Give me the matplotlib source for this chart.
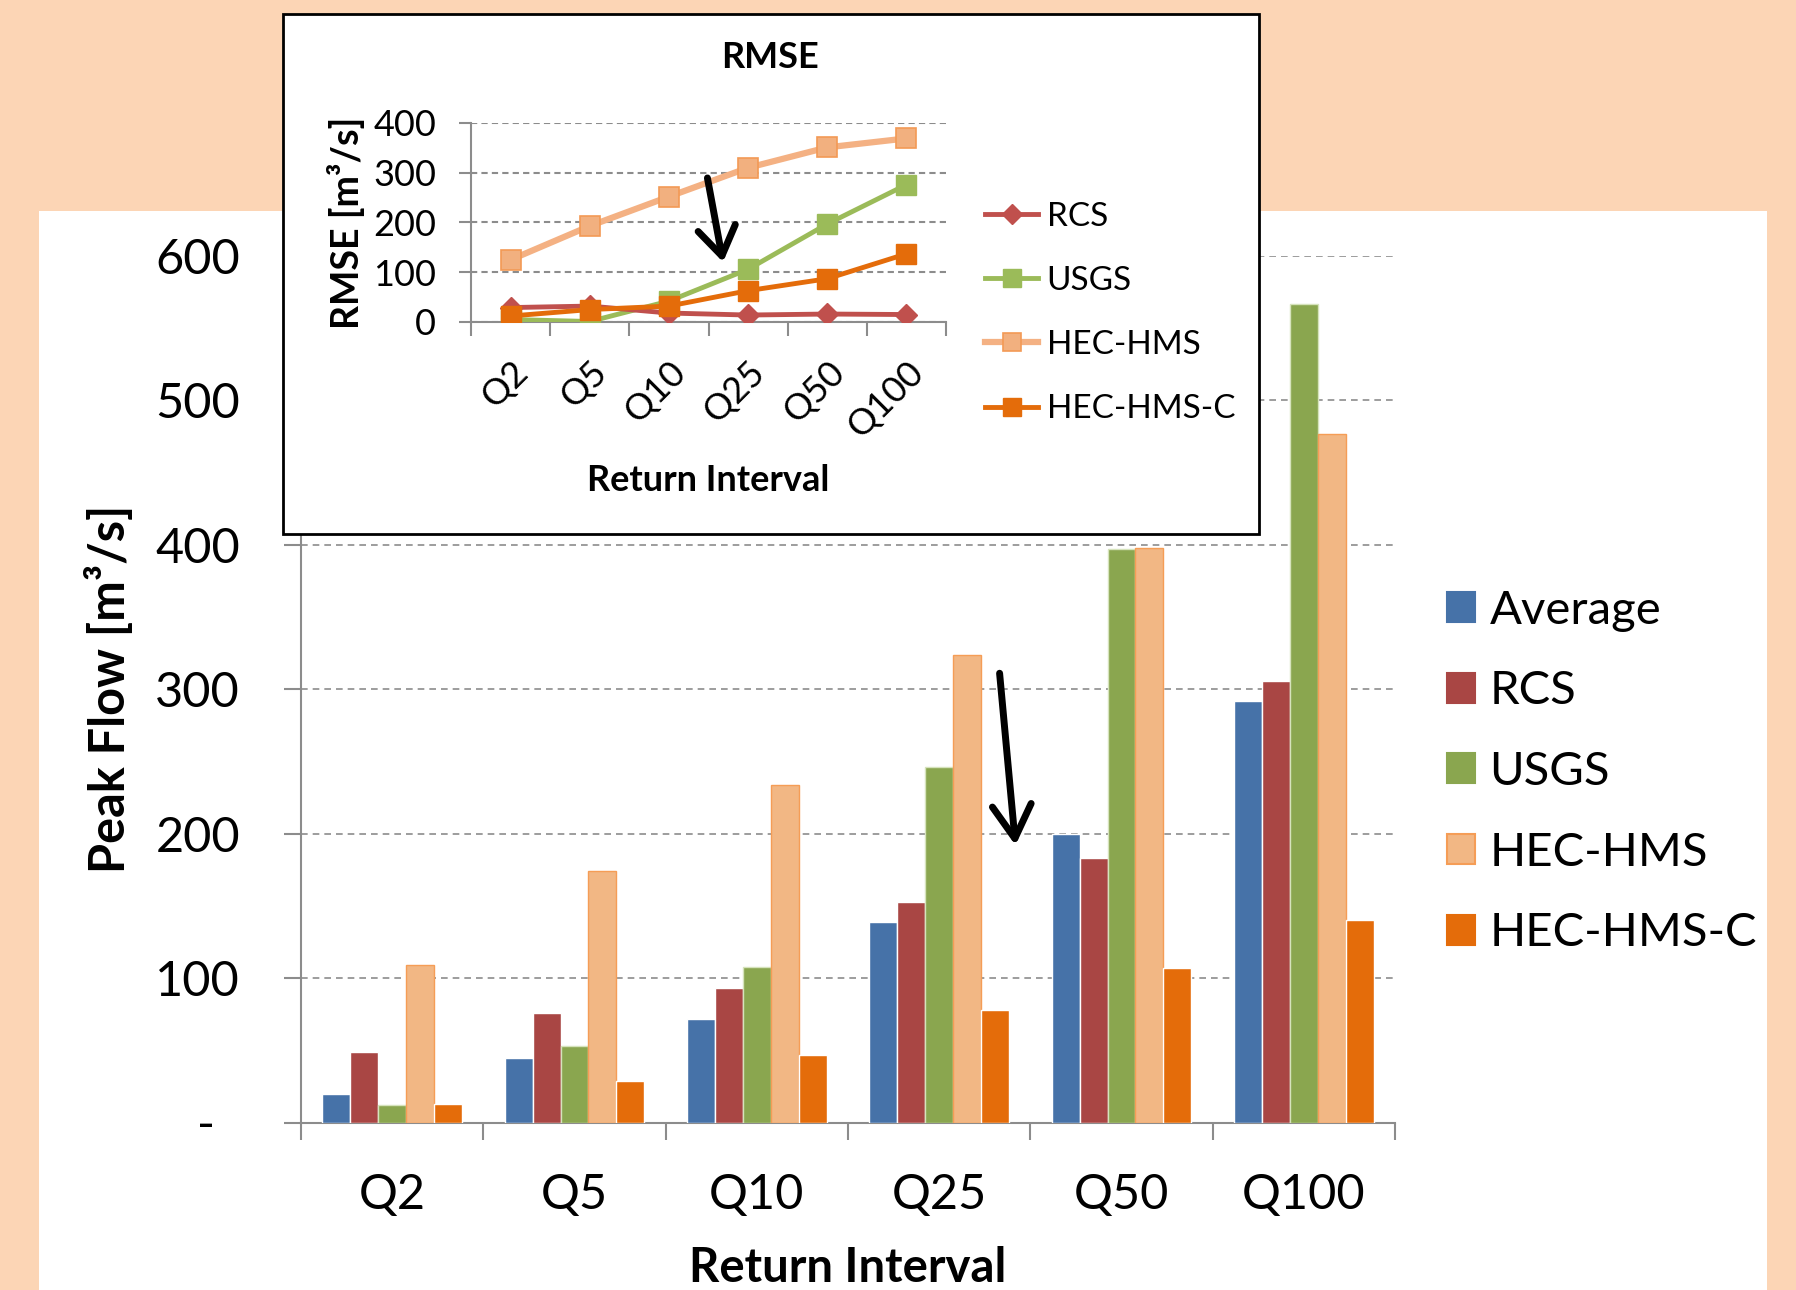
import numpy as np
import matplotlib
matplotlib.use('Agg')
import matplotlib.pyplot as plt
from matplotlib.patches import Rectangle, Patch

plt.rcParams['font.family'] = ['Lato', 'DejaVu Sans']

# data
categories = ['Q2', 'Q5', 'Q10', 'Q25', 'Q50', 'Q100']
series = ['Average', 'RCS', 'USGS', 'HEC-HMS', 'HEC-HMS-C']
peak_average = [20, 45, 72, 139, 200, 292]
peak_rcs = [49, 76, 93, 153, 183, 306]
peak_usgs = [12, 53, 108, 246, 397, 567]
peak_hms = [109, 174, 234, 324, 398, 477]
peak_hmsc = [13, 29, 47, 78, 107, 140]
yticks_main = [0, 100, 200, 300, 400, 500, 600]
yticklabels_main = ['-  ', '100', '200', '300', '400', '500', '600']

rmse_series = ['RCS', 'USGS', 'HEC-HMS', 'HEC-HMS-C']
rmse_rcs = [29, 32, 18, 14, 16, 15]
rmse_usgs = [5, 1, 42, 106, 197, 276]
rmse_hms = [125, 193, 252, 310, 351, 369]
rmse_hmsc = [12, 25, 32, 63, 87, 137]
yticks_inset = [0, 100, 200, 300, 400]

# colours
peach = '#FCD5B5'
bar_colors = ['#4672A8', '#A94644', '#8AA64F', '#F2B784', '#E46C0A']
bar_edges = ['#FFFFFF', '#FFFFFF', '#D6E3BC', '#F59D56', '#FFFFFF']
grid_c = '#8C8C8C'

fig = plt.figure(figsize=(17.96, 12.90), dpi=100, facecolor=peach)

# white panel
fig.patches.append(Rectangle((39 / 1796, 0), (1767 - 39) / 1796, 1 - 211 / 1290,
                             transform=fig.transFigure, facecolor='white',
                             edgecolor='none', zorder=-1))

# ---------------- main bar chart ----------------
ax = fig.add_axes([301 / 1796, 1 - 1122.5 / 1290, 1094 / 1796, 866.5 / 1290])
ax.set_facecolor('none')
x = np.arange(len(categories))
w = 0.153
peaks = [peak_average, peak_rcs, peak_usgs, peak_hms, peak_hmsc]
handles = []
for i, vals in enumerate(peaks):
    ax.bar(x + (i - 2) * w, vals, width=w, color=bar_colors[i],
           edgecolor=bar_edges[i], linewidth=1.0, zorder=3)
    handles.append(Patch(facecolor=bar_colors[i], edgecolor=bar_edges[i]
                         if i == 3 else bar_colors[i], linewidth=1.5, label=series[i]))

ax.set_xlim(-0.5, len(categories) - 0.5)
ax.set_ylim(0, 600)
ax.set_yticks(yticks_main)
ax.set_yticklabels(yticklabels_main)
ax.set_xticks(x)
ax.set_xticklabels(categories)
ax.set_xticks(np.arange(-0.5, len(categories), 1), minor=True)
ax.tick_params(axis='x', which='major', length=0, labelsize=35, pad=36)
ax.tick_params(axis='x', which='minor', length=12, width=1.5, color=grid_c, direction='out')
ax.tick_params(axis='y', length=12, width=1.5, color=grid_c, labelsize=35, pad=32)
ax.yaxis.grid(True, linestyle=(0, (4, 3)), color=grid_c, linewidth=1.2, zorder=0)
ax.set_axisbelow(True)
for s in ['top', 'right']:
    ax.spines[s].set_visible(False)
for s in ['left', 'bottom']:
    ax.spines[s].set_color(grid_c)
    ax.spines[s].set_linewidth(1.5)
ax.set_ylabel('Peak Flow [m³/s]', fontsize=35, fontweight='bold', labelpad=16)
ax.set_xlabel('Return Interval', fontsize=34, fontweight='bold', labelpad=21)

fig.legend(handles=handles, loc='center left', bbox_to_anchor=(1447 / 1796, 1 - 772 / 1290),
           frameon=False, fontsize=34, handlelength=0.6, handleheight=0.6,
           handletextpad=0.3, labelspacing=0.82, borderpad=0, borderaxespad=0)

ax.annotate('', xy=(3.42, 190), xytext=(3.33, 313),
            arrowprops=dict(arrowstyle='->,head_length=0.6,head_width=0.35',
                            lw=5, color='black', mutation_scale=40), zorder=5)

# ---------------- inset ----------------
fig.patches.append(Rectangle((283 / 1796, 1 - 534 / 1290), (1259 - 283) / 1796, (534 - 14) / 1290,
                             transform=fig.transFigure, facecolor='white',
                             edgecolor='black', linewidth=2.0, zorder=2))

axi = fig.add_axes([471 / 1796, 1 - 322 / 1290, 475 / 1796, 199 / 1290], zorder=3)
axi.set_facecolor('none')
axi.plot(x, rmse_hms, color='#F4B183', lw=4.5, marker='s', markersize=15,
         markerfacecolor='#F2B07F', markeredgecolor='#F39A55', markeredgewidth=1.2,
         label='HEC-HMS', zorder=3)
axi.plot(x, rmse_usgs, color='#9BBB59', lw=3.5, marker='s', markersize=14,
         markeredgecolor='#9BBB59', label='USGS', zorder=4)
axi.plot(x, rmse_rcs, color='#C0504D', lw=3.5, marker='D', markersize=11,
         label='RCS', zorder=4)
axi.plot(x, rmse_hmsc, color='#E46C0A', lw=3.5, marker='s', markersize=14,
         label='HEC-HMS-C', zorder=5)

axi.set_xlim(-0.5, len(categories) - 0.5)
axi.set_ylim(0, 400)
axi.set_yticks(yticks_inset)
axi.set_xticks(x)
axi.set_xticklabels(categories, rotation=45, ha='right', va='top', rotation_mode='anchor')
axi.set_xticks(np.arange(-0.5, len(categories), 1), minor=True)
axi.tick_params(axis='x', which='major', length=0, labelsize=26, pad=24)
axi.tick_params(axis='x', which='minor', length=10, width=1.5, color=grid_c)
axi.tick_params(axis='y', length=9, width=1.5, color=grid_c, labelsize=26, pad=16)
axi.yaxis.grid(True, linestyle=(0, (3, 2)), color=grid_c, linewidth=1.5, zorder=0)
axi.set_axisbelow(True)
for s in ['top', 'right']:
    axi.spines[s].set_visible(False)
for s in ['left', 'bottom']:
    axi.spines[s].set_color(grid_c)
    axi.spines[s].set_linewidth(1.5)
axi.set_ylabel('RMSE [m³/s]', fontsize=27, fontweight='bold', labelpad=6)
axi.set_xlabel('Return Interval', fontsize=26, fontweight='bold', labelpad=15)
fig.text(770 / 1796, 1 - 58 / 1290, 'RMSE', fontsize=26, fontweight='bold',
         ha='center', va='center', zorder=4)

h, l = axi.get_legend_handles_labels()
byname = dict(zip(l, h))
leg_i = fig.legend([byname[s] for s in rmse_series], rmse_series, loc='center left',
                   bbox_to_anchor=(985 / 1796, 1 - 313 / 1290), frameon=False, fontsize=24,
                   handlelength=1.6, handletextpad=0.25, labelspacing=1.03,
                   borderpad=0, borderaxespad=0, markerscale=0.9)
leg_i.set_zorder(4)

axi.annotate('', xy=(2.69, 115), xytext=(2.48, 295),
             arrowprops=dict(arrowstyle='->,head_length=0.6,head_width=0.4',
                             lw=5, color='black', mutation_scale=34), zorder=6)

fig.savefig('out.png', dpi=100, facecolor=peach)
